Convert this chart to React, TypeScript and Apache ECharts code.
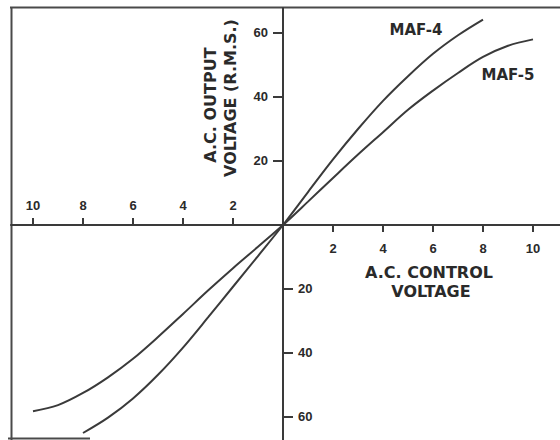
import React, { useEffect, useRef } from "react";
import * as echarts from "echarts";

// Data
const maf4X = [-8, -7, -6, -5, -4, -3, -2, -1, 0, 1, 2, 3, 4, 5, 6, 7, 8];
const maf4Y = [-65, -60.2, -54.2, -46.8, -38.3, -28.9, -19.3, -9.7, 0, 10.3, 20.5, 30, 38.8, 46.5, 53.5, 59.3, 64.2];
const maf5X = [-10, -9, -8, -7, -6, -5, -4, -3, -2, -1, 0, 1, 2, 3, 4, 5, 6, 7, 8, 9, 10];
const maf5Y = [-58.2, -56.3, -52.5, -47.6, -41.8, -35, -27.8, -20.5, -13.5, -6.8, 0, 7.3, 14.7, 22, 29, 36, 42, 47.5, 52.5, 56, 58];

const xTicksPos = [2, 4, 6, 8, 10];
const xTicksNeg = [-10, -8, -6, -4, -2];
const yTicksPos = [20, 40, 60];
const yTicksNeg = [-60, -40, -20];

const seriesNames = ["MAF-4", "MAF-5"];
const xTitle = ["A.C. CONTROL", "VOLTAGE"];
const yTitle = ["A.C. OUTPUT", "VOLTAGE (R.M.S.)"];

const LINE = "#3a3a3a";
const TEXT = "#2a2a2a";
const TICK_FONT = "Liberation Sans";
const TITLE_FONT = "DejaVu Sans";

const X_MIN = -10.88;
const X_MAX = 11.08;
const Y_MIN = -67.19;
const Y_MAX = 67.81;

// plot box (pixels)
const L = 11, T = 8, R = 560, B = 440, W = 560, H = 440;

export default function App() {
  const ref = useRef<HTMLDivElement>(null);

  useEffect(() => {
    if (!ref.current) return;
    const chart = echarts.init(ref.current, null, { renderer: "svg" });

    // pixel location of the origin, derived from axis ranges
    const ox = L + ((0 - X_MIN) / (X_MAX - X_MIN)) * (R - L);
    const oy = T + ((Y_MAX - 0) / (Y_MAX - Y_MIN)) * (B - T);

    const tickLabel = (vals: number[], margin: number) => ({
      show: true,
      customValues: vals,
      margin,
      color: TEXT,
      fontFamily: TICK_FONT,
      fontWeight: "bold" as const,
      fontSize: 13,
      formatter: (v: number) => String(Math.abs(v)),
    });
    const tick = (vals: number[], len: number) => ({
      show: true,
      customValues: vals,
      length: len,
      lineStyle: { color: LINE, width: 2 },
    });
    const hidden = (min: number, max: number, gridIndex: number) => ({
      type: "value",
      gridIndex,
      min,
      max,
      show: false,
      axisLine: { show: false, onZero: false },
      axisTick: { show: false },
      axisLabel: { show: false },
      splitLine: { show: false },
    });
    const grid = (left: number, top: number, right: number, bottom: number) => ({
      left,
      top,
      width: right - left,
      height: bottom - top,
      containLabel: false,
      outerBoundsMode: "none",
    });

    const textStyle = (text: string, size: number) => ({
      text,
      fill: TEXT,
      font: `bold ${size}px "${TITLE_FONT}"`,
      align: "center",
      verticalAlign: "middle",
    });

    chart.setOption({
      animation: false,
      backgroundColor: "#ffffff",
      grid: [
        grid(L, T, R, B), // 0: data
        grid(L, T, R, oy), // 1: upper half -> positive x labels below axis
        grid(L, oy, R, B), // 2: lower half -> negative x labels above axis
        grid(ox, T, R, B), // 3: right half -> positive y labels left of axis
        grid(L, T, ox, B), // 4: left half -> negative y labels right of axis
      ],
      xAxis: [
        hidden(X_MIN, X_MAX, 0),
        {
          type: "value",
          gridIndex: 1,
          min: X_MIN,
          max: X_MAX,
          position: "bottom",
          axisLine: { show: true, onZero: false, lineStyle: { color: LINE, width: 2 } },
          axisTick: tick(xTicksPos, 7),
          axisLabel: tickLabel(xTicksPos, 17),
          splitLine: { show: false },
        },
        {
          type: "value",
          gridIndex: 2,
          min: X_MIN,
          max: X_MAX,
          position: "top",
          axisLine: { show: false, onZero: false },
          axisTick: tick(xTicksNeg, 7),
          axisLabel: tickLabel(xTicksNeg, 13),
          splitLine: { show: false },
        },
        hidden(0, X_MAX, 3),
        hidden(X_MIN, 0, 4),
      ],
      yAxis: [
        hidden(Y_MIN, Y_MAX, 0),
        hidden(0, Y_MAX, 1),
        hidden(Y_MIN, 0, 2),
        {
          type: "value",
          gridIndex: 3,
          min: Y_MIN,
          max: Y_MAX,
          position: "left",
          axisLine: { show: true, onZero: false, lineStyle: { color: LINE, width: 2 } },
          axisTick: tick(yTicksPos, 10),
          axisLabel: tickLabel(yTicksPos, 15),
          splitLine: { show: false },
        },
        {
          type: "value",
          gridIndex: 4,
          min: Y_MIN,
          max: Y_MAX,
          position: "right",
          axisLine: { show: false, onZero: false },
          axisTick: tick(yTicksNeg, 10),
          axisLabel: tickLabel(yTicksNeg, 15),
          splitLine: { show: false },
        },
      ],
      series: [
        {
          name: seriesNames[0],
          type: "line",
          xAxisIndex: 0,
          yAxisIndex: 0,
          data: maf4X.map((x, i) => [x, maf4Y[i]]),
          smooth: 0.35,
          showSymbol: false,
          lineStyle: { color: LINE, width: 2 },
        },
        {
          name: seriesNames[1],
          type: "line",
          xAxisIndex: 0,
          yAxisIndex: 0,
          data: maf5X.map((x, i) => [x, maf5Y[i]]),
          smooth: 0.35,
          showSymbol: false,
          lineStyle: { color: LINE, width: 2 },
        },
      ],
      graphic: [
        // frame
        { type: "line", shape: { x1: 10, y1: 7.5, x2: W, y2: 7.5 }, style: { stroke: "#4a4a4a", lineWidth: 2 } },
        { type: "line", shape: { x1: 11.5, y1: 7, x2: 11.5, y2: H }, style: { stroke: "#4a4a4a", lineWidth: 2 } },
        { type: "line", shape: { x1: 8, y1: 438.5, x2: 90, y2: 438.5 }, style: { stroke: "#4a4a4a", lineWidth: 2 } },
        // series names
        { type: "text", x: 416, y: 30, style: textStyle(seriesNames[0], 15) },
        { type: "text", x: 508, y: 75, style: textStyle(seriesNames[1], 15) },
        // x title
        { type: "text", x: 429, y: 272.5, style: textStyle(xTitle[0], 16) },
        { type: "text", x: 431, y: 291.5, style: textStyle(xTitle[1], 16) },
        // y title (rotated)
        { type: "text", x: 210, y: 105, rotation: Math.PI / 2, style: textStyle(yTitle[0], 16) },
        { type: "text", x: 230, y: 98, rotation: Math.PI / 2, style: textStyle(yTitle[1], 16) },
      ],
    });

    return () => chart.dispose();
  }, []);

  return (
    <div
      ref={ref}
      style={{ position: "absolute", left: 0, top: 0, width: W, height: H, background: "#fff" }}
    />
  );
}
